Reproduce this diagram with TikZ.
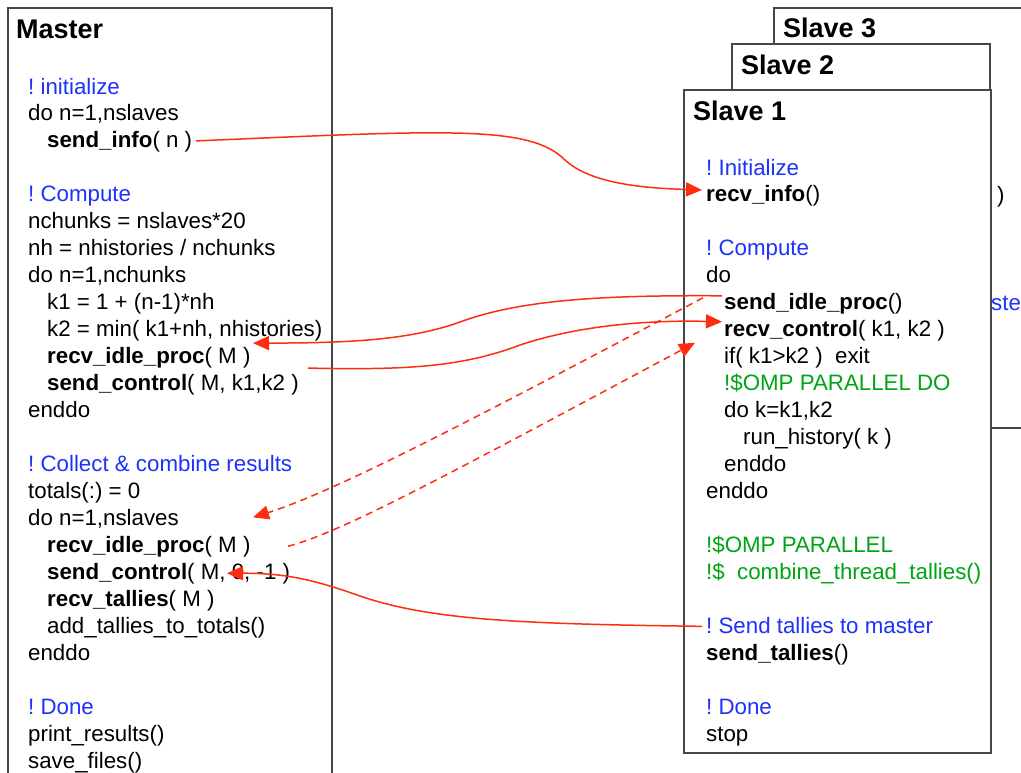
\documentclass[tikz,border=0pt]{standalone}
\usepackage{fontspec}
\setmainfont{Liberation Sans}
\usetikzlibrary{arrows.meta}
\frenchspacing
\definecolor{cblue}{RGB}{30,50,250}
\definecolor{cgreen}{RGB}{0,165,20}
\definecolor{cred}{RGB}{255,45,15}
\definecolor{cframe}{RGB}{70,70,70}
\tikzset{
  txt/.style={anchor=base west, inner sep=0pt, font=\fontsize{22.3}{27}\selectfont},
  cmt/.style={txt, text=cblue},
  omp/.style={txt, text=cgreen},
  ttl/.style={anchor=base west, inner sep=0pt, font=\fontsize{27}{32}\selectfont\bfseries},
  boxframe/.style={draw=cframe, line width=1.3pt, fill=white},
  msg/.style={draw=cred, line width=1.5pt, -{Triangle[length=16pt,width=14pt]}},
  dmsg/.style={msg, dash pattern=on 7pt off 5pt}
}
\begin{document}
\begin{tikzpicture}[x=1pt,y=-1pt]
\useasboundingbox (0,0) rectangle (1021,772);
\clip (0,0) rectangle (1021,772);
\fill[white] (0,0) rectangle (1021,772);
% Slave 3 (back)
\draw[boxframe] (774,8) rectangle (1040,428);
\node[ttl] (s3title) at (783,37) {Slave 3};
\node[txt] (s3paren) at (997,202) {)};
\node[cmt] (s3ster) at (991,310) {ster};
% Slave 2
\draw[boxframe] (732,44) rectangle (990,700);
\node[ttl] (s2title) at (741,74) {Slave 2};
% Slave 1
\draw[boxframe] (684,90) rectangle (991,753);
\node[ttl] (s1title) at (693,120) {Slave 1};
\node[cmt] (s1c1) at (706,175) {! Initialize};
\node[txt] (s1RecvInfo) at (706,201.96) {\textbf{recv\_info}()};
\node[cmt] (s1c2) at (706,255.88) {! Compute};
\node[txt] (s1do) at (706,282.84) {do};
\node[txt] (s1SendIdle) at (724,309.8) {\textbf{send\_idle\_proc}()};
\node[txt] (s1RecvCtl) at (724,336.76) {\textbf{recv\_control}( k1, k2 )};
\node[txt] (s1if) at (724,363.72) {if( k1>k2 )\ \ exit};
\node[omp] (s1omp1) at (724,390.68) {!\$OMP PARALLEL DO};
\node[txt] (s1dok) at (724,417.64) {do k=k1,k2};
\node[txt] (s1run) at (743,444.6) {run\_history( k )};
\node[txt] (s1end1) at (724,471.56) {enddo};
\node[txt] (s1end2) at (706,498.52) {enddo};
\node[omp] (s1omp2) at (706,552.44) {!\$OMP PARALLEL};
\node[omp] (s1omp3) at (706,579.4) {!\$\ \ combine\_thread\_tallies()};
\node[cmt] (s1SendCm) at (706,633.32) {! Send tallies to master};
\node[txt] (s1SendTal) at (706,660.28) {\textbf{send\_tallies}()};
\node[cmt] (s1done) at (706,714.2) {! Done};
\node[txt] (s1stop) at (706,741.16) {stop};
% Master
\draw[boxframe] (8,8) rectangle (332,800);
\node[ttl] (mtitle) at (16,38) {Master};
\node[cmt] (mc1) at (28,94) {! initialize};
\node[txt] (mdo1) at (28,120.96) {do n=1,nslaves};
\node[txt] (mSendInfo) at (47,147.92) {\textbf{send\_info}( n )};
\node[cmt] (mc2) at (28,201.84) {! Compute};
\node[txt] (mnch) at (28,228.8) {nchunks = nslaves*20};
\node[txt] (mnh) at (28,255.76) {nh = nhistories / nchunks};
\node[txt] (mdo2) at (28,282.72) {do n=1,nchunks};
\node[txt] (mk1) at (47,309.68) {k1 = 1 + (n-1)*nh};
\node[txt] (mk2) at (47,336.64) {k2 = min( k1+nh, nhistories)};
\node[txt] (mRecvIdle) at (47,363.6) {\textbf{recv\_idle\_proc}( M )};
\node[txt] (mSendCtl) at (47,390.56) {\textbf{send\_control}( M, k1,k2 )};
\node[txt] (mend1) at (28,417.52) {enddo};
\node[cmt] (mc3) at (28,471.44) {! Collect \& combine results};
\node[txt] (mtot) at (28,498.4) {totals(:) = 0};
\node[txt] (mdo3) at (28,525.36) {do n=1,nslaves};
\node[txt] (mRecvIdle2) at (47,552.32) {\textbf{recv\_idle\_proc}( M )};
\node[txt] (mSendCtl2) at (47,579.28) {\textbf{send\_control}( M, 0, -1 )};
\node[txt] (mRecvTal) at (47,606.24) {\textbf{recv\_tallies}( M )};
\node[txt] (madd) at (47,633.2) {add\_tallies\_to\_totals()};
\node[txt] (mend2) at (28,660.16) {enddo};
\node[cmt] (mc4) at (28,714.08) {! Done};
\node[txt] (mprint) at (28,741.04) {print\_results()};
\node[txt] (msave) at (28,768) {save\_files()};
% messages
\draw[msg] ([xshift=149pt,yshift=7pt]mSendInfo.base west) .. controls (450,130) and (530,125) .. (565,160)
  .. controls (590,183) and (640,188) .. ([xshift=-4pt,yshift=12pt]s1RecvInfo.base west);
\draw[msg] ([xshift=-2pt,yshift=14pt]s1SendIdle.base west) .. controls (600,295) and (520,300) .. (460,322)
  .. controls (410,340) and (350,343) .. ([xshift=206pt,yshift=20.5pt]mRecvIdle.base west);
\draw[msg] ([xshift=261pt,yshift=22.5pt]mSendCtl.base west) .. controls (400,370) and (460,368) .. (520,345)
  .. controls (580,325) and (650,320) .. ([xshift=-2pt,yshift=15pt]s1RecvCtl.base west);
\draw[dmsg] ([xshift=-21pt,yshift=12pt]s1SendIdle.base west) .. controls (500,405) and (340,490) .. ([xshift=225pt,yshift=8pt]mdo3.base west);
\draw[dmsg] ([xshift=241pt,yshift=6pt]mRecvIdle2.base west) .. controls (340,532) and (420,490) .. ([xshift=-29pt,yshift=-6pt]s1RecvCtl.base west);
\draw[msg] ([xshift=-4pt,yshift=7pt]s1SendCm.base west) .. controls (520,624) and (430,620) .. (360,596)
  .. controls (320,582) and (290,573) .. ([xshift=180pt,yshift=6pt]mSendCtl2.base west);
\end{tikzpicture}
\end{document}
